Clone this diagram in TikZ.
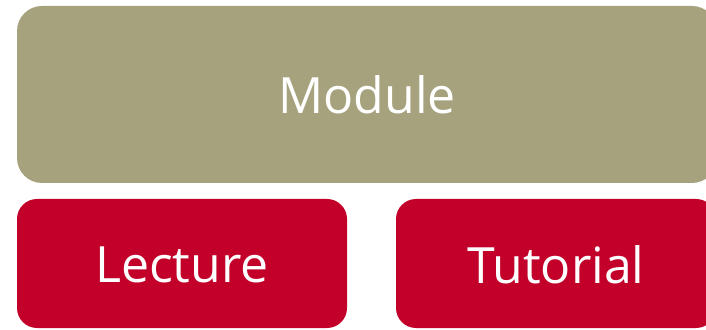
\documentclass[tikz,border=0pt]{standalone}
\usepackage{fontspec}
\setmainfont{Open Sans}
\definecolor{olive}{HTML}{A6A27E}
\definecolor{unired}{HTML}{C20029}
\begin{document}
\begin{tikzpicture}[x=1pt,y=1pt,
  boxtext/.style={text=white,font=\fontsize{50}{60}\selectfont},
  topbox/.style={fill=olive,rounded corners=25pt},
  subbox/.style={fill=unired,rounded corners=20pt}]
\useasboundingbox (0,0) rectangle (706,329);
\begin{scope}
\clip (0,0) rectangle (706,329);
\fill[topbox] (17,146) rectangle (717,323);
\fill[subbox] (17,1) rectangle (347,130);
\fill[subbox] (396,1) rectangle (716,130);
\end{scope}
\node[boxtext] (module) at (367,234) {Module};
\node[boxtext] (lecture) at (182,64) {Lecture};
\node[boxtext] (tutorial) at (556,64) {Tutorial};
\end{tikzpicture}
\end{document}
